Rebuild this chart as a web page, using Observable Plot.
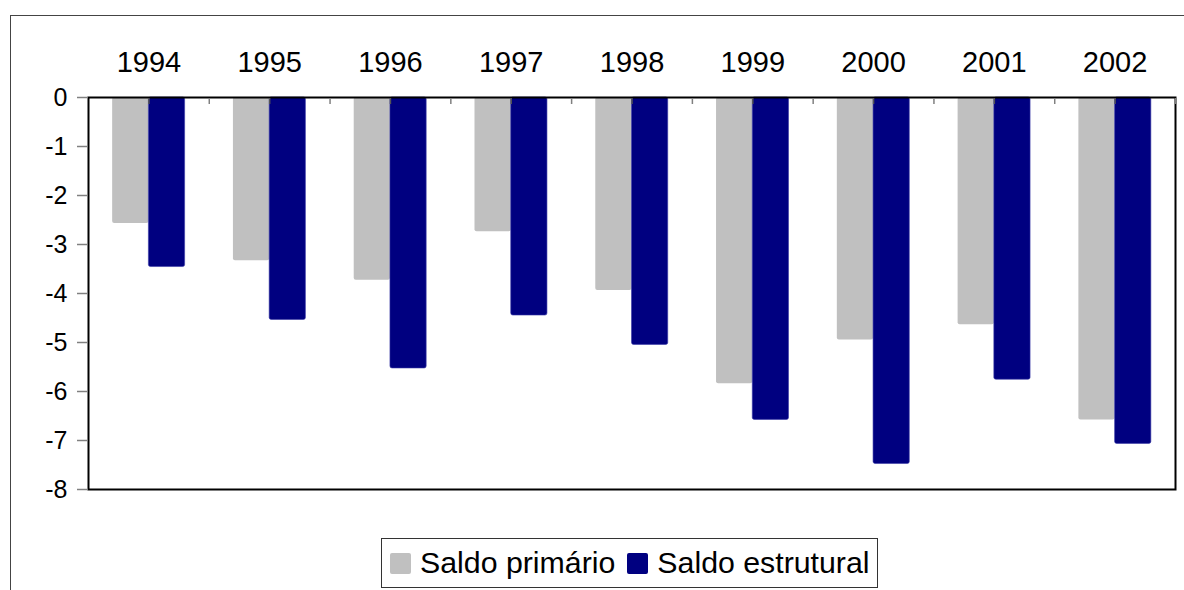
<!DOCTYPE html>
<html>
<head>
<meta charset="utf-8">
<script src="https://cdn.jsdelivr.net/npm/d3@7"></script>
<script src="https://cdn.jsdelivr.net/npm/@observablehq/plot@0.6"></script>
<style>
  html, body { margin: 0; padding: 0; background: #fff; }
  #wrap { position: relative; width: 1184px; height: 590px; overflow: hidden; font-family: "Liberation Sans", Arial, sans-serif; }
  #outer { position: absolute; left: 10px; top: 15px; width: 1200px; height: 600px; border-left: 1px solid #444; border-top: 1px solid #444; }
  #chart { position: absolute; left: 0; top: 0; }
  #legend { position: absolute; left: 381px; top: 538px; width: 497px; height: 50px; box-sizing: border-box; border: 1px solid #333; display: flex; align-items: center; font-size: 30.3px; color: #000; background: #fff; white-space: nowrap; }
  .sw { display: inline-block; width: 21px; height: 21px; border-radius: 2px; margin-left: 12px; margin-right: 9px; }
  .sw.first { margin-left: 8px; }
</style>
</head>
<body>
<div id="wrap">
  <div id="outer"></div>
  <div id="chart"></div>
  <div id="legend"></div>
</div>
<script>
const years = ["1994", "1995", "1996", "1997", "1998", "1999", "2000", "2001", "2002"];
const saldoPrimario = [-2.57, -3.33, -3.73, -2.74, -3.94, -5.84, -4.95, -4.64, -6.58];
const saldoEstrutural = [-3.46, -4.54, -5.53, -4.45, -5.05, -6.58, -7.48, -5.76, -7.07];
const seriesNames = ["Saldo primário", "Saldo estrutural"];
const seriesColors = ["#C0C0C0", "#000080"];
const yTicks = [0, -1, -2, -3, -4, -5, -6, -7, -8];

const rowsP = years.map((y, i) => ({year: y, value: saldoPrimario[i], series: seriesNames[0]}));
const rowsE = years.map((y, i) => ({year: y, value: saldoEstrutural[i], series: seriesNames[1]}));

const W = 1184, H = 530, mL = 88, mR = 9, mT = 97, mB = 41;
const padIn = 0.4, padOut = 0.2;
const step = (W - mL - mR) / (years.length - padIn + 2 * padOut);
const bw = step * (1 - padIn);
const half = bw / 2;

const chart = Plot.plot({
  width: W, height: H,
  marginTop: mT, marginLeft: mL, marginRight: mR, marginBottom: mB,
  style: {fontFamily: "'Liberation Sans', Arial, sans-serif", color: "#000", background: "transparent", overflow: "visible"},
  x: {type: "band", domain: years, paddingInner: padIn, paddingOuter: padOut, round: false},
  y: {domain: [-8, 0]},
  marks: [
    Plot.barY(rowsP, {x: "year", y: "value", fill: seriesColors[0], insetRight: half, rx: 2}),
    Plot.barY(rowsE, {x: "year", y: "value", fill: seriesColors[1], insetLeft: half, rx: 2, stroke: "#3b3ba6", strokeWidth: 0.6}),
    Plot.frame({stroke: "#000", strokeWidth: 2}),
    Plot.axisY({ticks: yTicks, tickSize: 11, tickPadding: 10, fontSize: 25, stroke: "#808080", strokeWidth: 1.5, label: null, tickFormat: d => String(d).replace("−", "-")}),
    Plot.axisX({anchor: "top", tickSize: -6, tickPadding: 32, fontSize: 29, stroke: "#555", strokeWidth: 1.5, label: null}),
    Plot.axisX({anchor: "top", tickSize: -6, tickFormat: () => "", dx: step / 2, stroke: "#808080", strokeWidth: 1.5, label: null})
  ]
});
document.getElementById("chart").appendChild(chart);

const legend = document.getElementById("legend");
seriesNames.forEach((name, i) => {
  const sw = document.createElement("span");
  sw.className = "sw" + (i === 0 ? " first" : "");
  sw.style.background = seriesColors[i];
  legend.appendChild(sw);
  const t = document.createElement("span");
  t.textContent = name;
  legend.appendChild(t);
});
</script>
</body>
</html>
